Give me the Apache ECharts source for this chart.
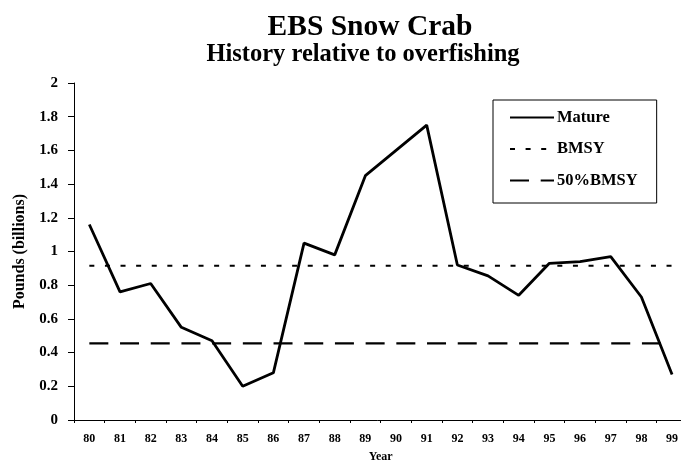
<!DOCTYPE html>
<html><head><meta charset="utf-8">
<script src="https://cdn.jsdelivr.net/npm/echarts@6/dist/echarts.min.js"></script>
<style>html,body{margin:0;padding:0;background:#fff}#c{width:681px;height:463px}</style>
</head><body><div id="c"></div>
<script>
const years = ['80','81','82','83','84','85','86','87','88','89','90','91','92','93','94','95','96','97','98','99'];
const mature = [1.16,0.76,0.81,0.55,0.47,0.20,0.28,1.05,0.98,1.45,1.60,1.75,0.92,0.855,0.74,0.93,0.94,0.97,0.73,0.27];
const bmsyValue = 0.915;
const halfBmsyValue = 0.455;
const bmsy = years.map(() => bmsyValue);
const halfBmsy = years.map(() => halfBmsyValue);
const yTicks = {min: 0, max: 2, interval: 0.2};

const F = '"Liberation Serif","DejaVu Serif",serif';
const chart = echarts.init(document.getElementById('c'));
chart.setOption({
  backgroundColor: '#fff',
  animation: false,
  title: [
    {text: 'EBS Snow Crab', left: 365, textAlign: 'center', top: 7, textStyle: {fontFamily: F, fontSize: 29.5, fontWeight: 'bold', color: '#000'}},
    {text: 'History relative to overfishing', left: 358, textAlign: 'center', top: 37, textStyle: {fontFamily: F, fontSize: 24.5, fontWeight: 'bold', color: '#000'}}
  ],
  legend: {
    left: 493, top: 100, orient: 'vertical',
    itemWidth: 44, itemHeight: 18, itemGap: 14.5,
    padding: [9, 19, 14, 16],
    borderColor: '#000', borderWidth: 1, borderRadius: 0,
    itemStyle: {opacity: 0},
    textStyle: {fontFamily: F, fontSize: 16.5, fontWeight: 'bold', color: '#000', padding: [0,0,0,-2]},
    data: ['Mature', 'BMSY', '50%BMSY']
  },
  grid: {left: 74, right: -6.4, top: 83, bottom: 43, containLabel: false, outerBoundsMode: 'none'},
  xAxis: {
    type: 'category', data: years, boundaryGap: true,
    name: 'Year', nameLocation: 'middle', nameGap: 31,
    nameTextStyle: {fontFamily: F, fontSize: 12, fontWeight: 'bold', color: '#000'},
    axisLine: {lineStyle: {color: '#000', width: 1}},
    axisTick: {show: true, inside: false, length: 3, lineStyle: {color: '#000'}},
    axisLabel: {fontFamily: F, fontSize: 12, fontWeight: 'bold', color: '#000', margin: 13},
    splitLine: {show: false}
  },
  yAxis: {
    type: 'value', min: yTicks.min, max: yTicks.max, interval: yTicks.interval,
    name: 'Pounds (billions)', nameLocation: 'middle', nameGap: 42,
    nameTextStyle: {fontFamily: F, fontSize: 16, fontWeight: 'bold', color: '#000'},
    axisLine: {show: true, lineStyle: {color: '#000', width: 1}},
    axisTick: {show: true, length: 6, lineStyle: {color: '#000'}},
    axisLabel: {fontFamily: F, fontSize: 15, fontWeight: 'bold', color: '#000', margin: 16},
    splitLine: {show: false}
  },
  series: [
    {name: 'Mature', type: 'line', data: mature, symbol: 'none', lineStyle: {color: '#000', width: 2.8}, itemStyle: {color: '#000'}},
    {name: 'BMSY', type: 'line', data: bmsy, symbol: 'none', lineStyle: {color: '#000', width: 2, type: [5, 10.6]}, itemStyle: {color: '#000'}},
    {name: '50%BMSY', type: 'line', data: halfBmsy, symbol: 'none', lineStyle: {color: '#000', width: 2.2, type: [19, 11.7]}, itemStyle: {color: '#000'}}
  ]
});
</script></body></html>
